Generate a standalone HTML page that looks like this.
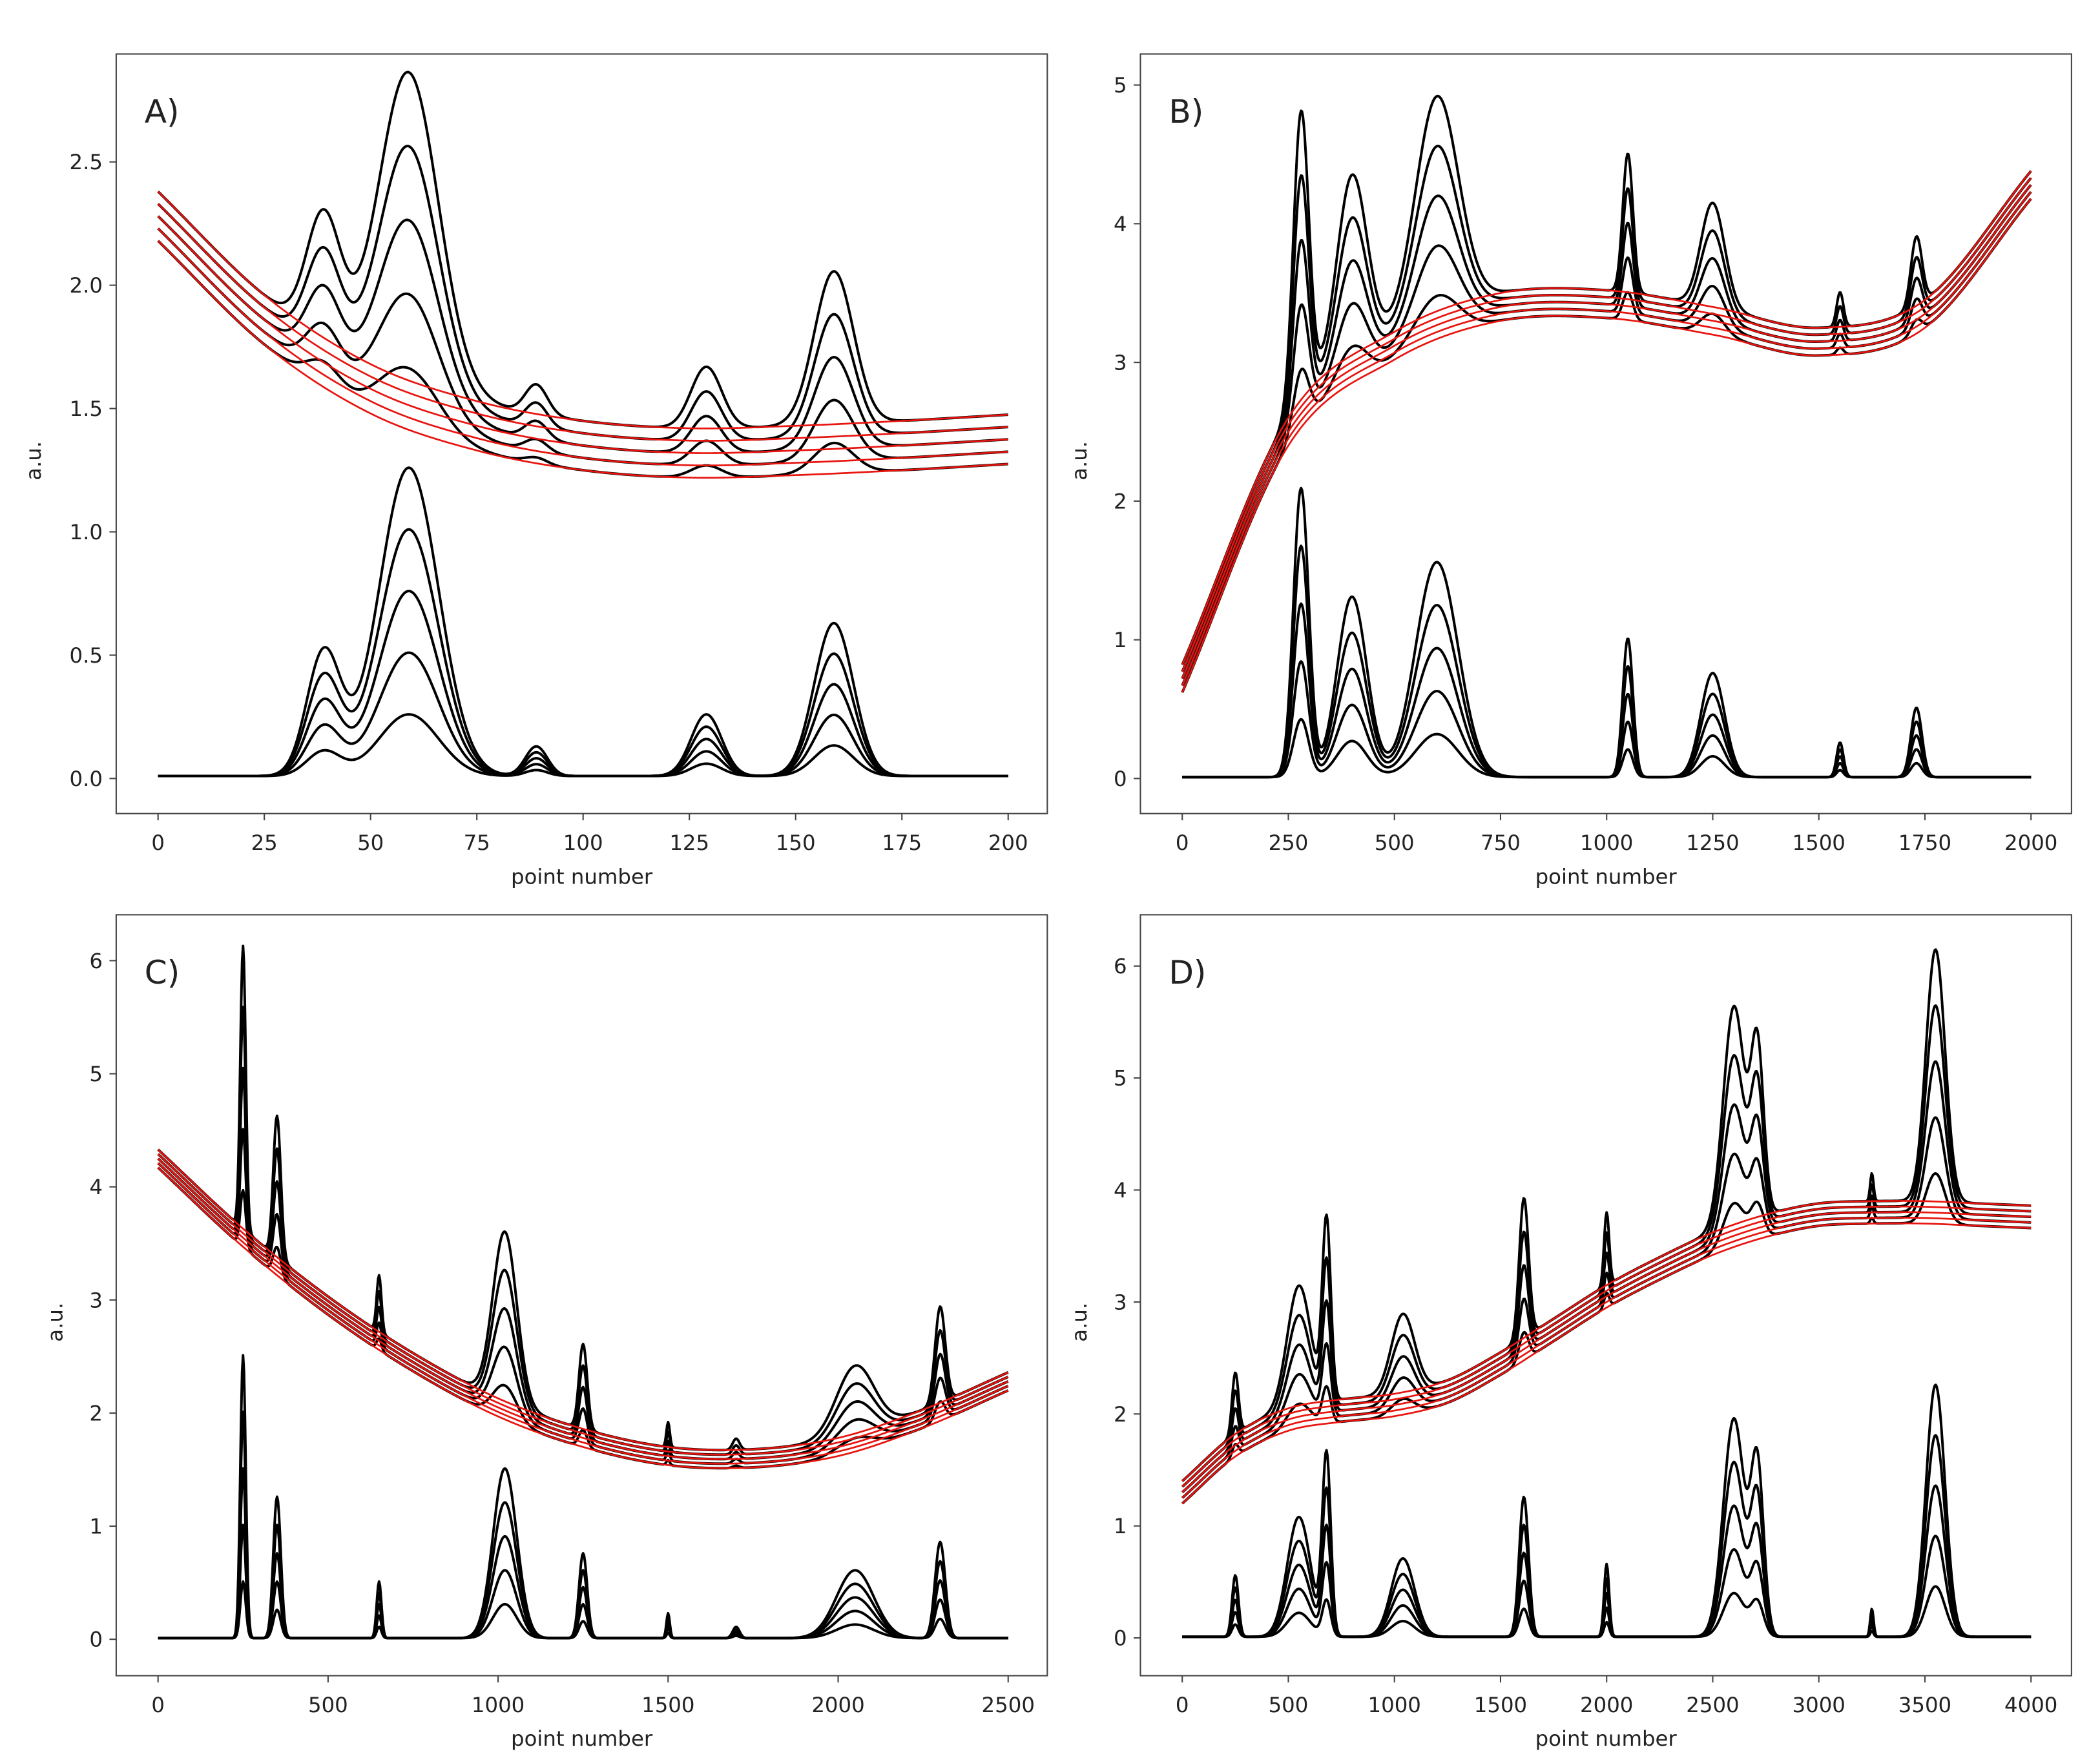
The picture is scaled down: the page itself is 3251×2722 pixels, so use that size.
<!DOCTYPE html>
<html><head><meta charset="utf-8"><style>
html,body{margin:0;padding:0;background:#fff}
svg{display:block}
text{font-family:"DejaVu Sans","Liberation Sans",sans-serif;fill:#222}
</style></head><body>
<svg id="chart" width="3251" height="2722" viewBox="0 0 1556 1303" xmlns="http://www.w3.org/2000/svg"></svg>
<script>
// ---- Panel A data ----
const aPeakCenters=[39,59,89,129,159];
const aPeakWidths=[4,7,2.6,3.6,4.6];
const aPeakHeights=[0.5,1.25,0.12,0.25,0.62];
const aBaseX=[0,25,50,75,100,125,150,175,200];
const aBaseY=[2.28,1.86,1.58,1.43,1.35,1.32,1.33,1.35,1.375];
const aXTicks=[0,25,50,75,100,125,150,175,200];
const aYTicks=[0.0,0.5,1.0,1.5,2.0,2.5];
const aYTickLabels=["0.0","0.5","1.0","1.5","2.0","2.5"];
// ---- Panel B data ----
const bPeakCenters=[280,400,600,1050,1250,1550,1730];
const bPeakWidths=[18,35,50,12,28,8,13];
const bPeakHeights=[2.08,1.3,1.55,1.0,0.75,0.25,0.5];
const bBaseX=[0,250,500,750,1000,1250,1500,1750,2000];
const bBaseY=[0.72,2.5,3.12,3.4,3.42,3.3,3.15,3.35,4.28];
const bXTicks=[0,250,500,750,1000,1250,1500,1750,2000];
const bYTicks=[0,1,2,3,4,5];
const bYTickLabels=["0","1","2","3","4","5"];
// ---- Panel C data ----
const cPeakCenters=[250,350,650,1020,1250,1500,1700,2050,2300];
const cPeakWidths=[8,11,7,35,12,5,10,55,15];
const cPeakHeights=[2.5,1.25,0.5,1.5,0.75,0.22,0.1,0.6,0.85];
const cBaseX=[0,250,500,750,1000,1250,1500,1750,2000,2250,2500];
const cBaseY=[4.25,3.55,2.95,2.45,2.05,1.78,1.62,1.6,1.7,1.95,2.28];
const cXTicks=[0,500,1000,1500,2000,2500];
const cYTicks=[0,1,2,3,4,5,6];
const cYTickLabels=["0","1","2","3","4","5","6"];
// ---- Panel D data ----
const dPeakCenters=[250,550,680,1040,1610,2000,2600,2710,3250,3550];
const dPeakWidths=[15,55,20,55,22,12,50,30,8,45];
const dPeakHeights=[0.55,1.07,1.6,0.7,1.25,0.65,1.95,1.5,0.25,2.25];
const dBaseX=[0,250,500,750,1000,1250,1500,1750,2000,2250,2500,2750,3000,3250,3500,3750,4000];
const dBaseY=[1.3,1.72,1.95,2.03,2.08,2.2,2.45,2.75,3.05,3.3,3.52,3.68,3.78,3.8,3.8,3.78,3.76];
const dXTicks=[0,500,1000,1500,2000,2500,3000,3500,4000];
const dYTicks=[0,1,2,3,4,5,6];
const dYTickLabels=["0","1","2","3","4","5","6"];

const levels=[1,2,3,4,5];
const offsets=[-0.1,-0.05,0,0.05,0.1];

const NS="http://www.w3.org/2000/svg";
const svg=document.getElementById('chart');
function mk(tag,attrs,parent){const e=document.createElementNS(NS,tag);for(const k in attrs)e.setAttribute(k,attrs[k]);(parent||svg).appendChild(e);return e;}

function interp(xs,ys,x){
  let i=0;while(i<xs.length-2&&x>xs[i+1])i++;
  const n=ys.length;
  const p1=ys[i],p2=ys[i+1];
  const p0=i>0?ys[i-1]:2*ys[0]-ys[1];
  const p3=i+2<n?ys[i+2]:2*ys[n-1]-ys[n-2];
  const t=(x-xs[i])/(xs[i+1]-xs[i]);
  return 0.5*((2*p1)+(-p0+p2)*t+(2*p0-5*p1+4*p2-p3)*t*t+(-p0+3*p1-3*p2+p3)*t*t*t);
}

const panels=[
 {id:'a',label:'A)',fx0:86,fx1:776,fy0:40,fy1:603,px0:117,px1:747,xmin:0,xmax:200,py0:577,py1:120,ymin:0,ymax:2.5,
  pc:aPeakCenters,pw:aPeakWidths,ph:aPeakHeights,bx:aBaseX,by:aBaseY,xt:aXTicks,yt:aYTicks,ytl:aYTickLabels,off:0.05},
 {id:'b',label:'B)',fx0:845,fx1:1535,fy0:40,fy1:603,px0:876,px1:1505,xmin:0,xmax:2000,py0:577,py1:63,ymin:0,ymax:5,
  pc:bPeakCenters,pw:bPeakWidths,ph:bPeakHeights,bx:bBaseX,by:bBaseY,xt:bXTicks,yt:bYTicks,ytl:bYTickLabels,off:0.05},
 {id:'c',label:'C)',fx0:86,fx1:776,fy0:678,fy1:1242,px0:117,px1:747,xmin:0,xmax:2500,py0:1215,py1:712,ymin:0,ymax:6,
  pc:cPeakCenters,pw:cPeakWidths,ph:cPeakHeights,bx:cBaseX,by:cBaseY,xt:cXTicks,yt:cYTicks,ytl:cYTickLabels,off:0.04},
 {id:'d',label:'D)',fx0:845,fx1:1535,fy0:678,fy1:1242,px0:876,px1:1505,xmin:0,xmax:4000,py0:1214,py1:716,ymin:0,ymax:6,
  pc:dPeakCenters,pw:dPeakWidths,ph:dPeakHeights,bx:dBaseX,by:dBaseY,xt:dXTicks,yt:dYTicks,ytl:dYTickLabels,off:0.05}
];

panels.forEach(P=>{
  const g=mk('g',{});
  
  
  const X=v=>P.px0+(v-P.xmin)/(P.xmax-P.xmin)*(P.px1-P.px0);
  const Y=v=>P.py0+(v-P.ymin)/(P.ymax-P.ymin)*(P.py1-P.py0);
  const sig=(x,k)=>{let s=0;for(let i=0;i<P.pc.length;i++){const d=(x-P.pc[i])/P.pw[i];s+=P.ph[i]*k/5*Math.exp(-0.5*d*d);}return s;};
  const N=900;
  const clip=mk('clipPath',{id:'clip-'+P.id},g);
  mk('rect',{x:P.fx0,y:P.fy0,width:P.fx1-P.fx0,height:P.fy1-P.fy0},clip);
  const plot=mk('g',{'clip-path':'url(#clip-'+P.id+')'},g);
  levels.forEach((k,li)=>{
    let d='';
    for(let j=0;j<=N;j++){const x=P.xmin+(P.xmax-P.xmin)*j/N;d+=(j?'L':'M')+X(x).toFixed(2)+','+Y(sig(x,k)+0.01).toFixed(2);}
    const p=mk('path',{d:d,fill:'none',stroke:'#000','stroke-width':1.9,'stroke-linejoin':'round'},plot);
    
    
  });
  levels.forEach((k,li)=>{
    let d='';
    for(let j=0;j<=N;j++){const x=P.xmin+(P.xmax-P.xmin)*j/N;const b=interp(P.bx,P.by,x)+offsets[li]*P.off/0.05;d+=(j?'L':'M')+X(x).toFixed(2)+','+Y(sig(x,k)+b).toFixed(2);}
    const p=mk('path',{d:d,fill:'none',stroke:'#000','stroke-width':1.9,'stroke-linejoin':'round'},plot);
    
    
  });
  levels.forEach((k,li)=>{
    let d='';
    for(let j=0;j<=N;j++){const x=P.xmin+(P.xmax-P.xmin)*j/N;const b=interp(P.bx,P.by,x)+offsets[li]*P.off/0.05;d+=(j?'L':'M')+X(x).toFixed(2)+','+Y(b).toFixed(2);}
    const p=mk('path',{d:d,fill:'none',stroke:'#e8140f','stroke-width':1.3},plot);
    
    
  });
  const fr=mk('rect',{x:P.fx0,y:P.fy0,width:P.fx1-P.fx0,height:P.fy1-P.fy0,fill:'none',stroke:'#444','stroke-width':1},g);
  
  
  P.xt.forEach(v=>{
    mk('line',{x1:X(v),x2:X(v),y1:P.fy1,y2:P.fy1+5,stroke:'#444','stroke-width':1},g);
    const t=mk('text',{x:X(v),y:P.fy1+27,'font-size':15.5,'text-anchor':'middle'},g);
    t.textContent=String(v);
    
    
  });
  P.yt.forEach((v,i)=>{
    mk('line',{x1:P.fx0-5,x2:P.fx0,y1:Y(v),y2:Y(v),stroke:'#444','stroke-width':1},g);
    const t=mk('text',{x:P.fx0-10,y:Y(v)+5.5,'font-size':15.5,'text-anchor':'end'},g);
    t.textContent=P.ytl[i];
    
    
  });
  const xl=mk('text',{x:(P.fx0+P.fx1)/2,y:P.fy1+52,'font-size':15.5,'text-anchor':'middle'},g);
  xl.textContent='point number';
  
  
  const yx=P.fx0-(P.id==='a'?56:40);
  const ym=(P.fy0+P.fy1)/2+20;
  const yl=mk('text',{x:yx,y:ym,'font-size':15.5,'text-anchor':'middle',transform:'rotate(-90 '+yx+' '+ym+')'},g);
  yl.textContent='a.u.';
  
  
  const pl=mk('text',{x:P.fx0+21,y:P.fy0+51,'font-size':24},g);
  pl.textContent=P.label;
  
  
});
</script>
</body></html>
